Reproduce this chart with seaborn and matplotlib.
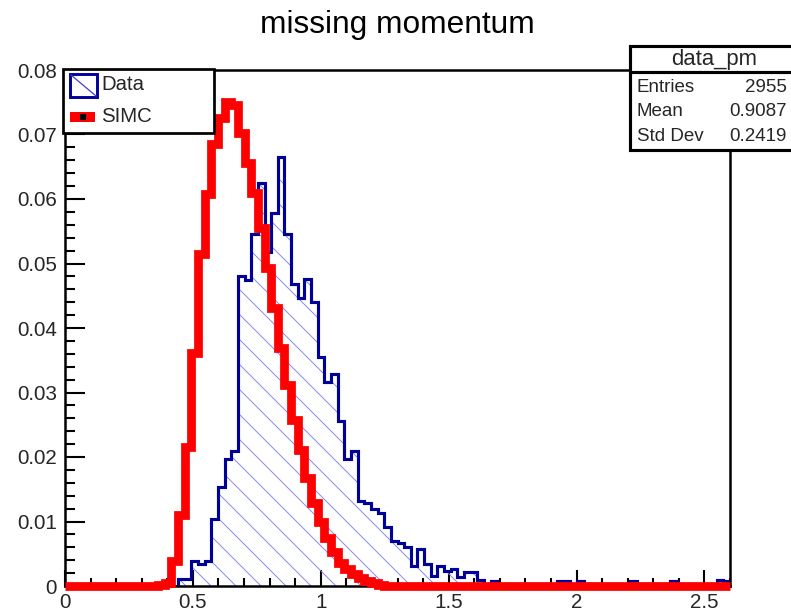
import numpy as np
import pandas as pd
import matplotlib
matplotlib.use("Agg")
import matplotlib.pyplot as plt
import seaborn as sns
from matplotlib.ticker import MultipleLocator, FuncFormatter
from matplotlib.patches import Rectangle
from matplotlib.lines import Line2D

# ---------------- data ----------------
x_min, x_max, n_bins = 0.0, 2.6, 100

data_pm = [
    0, 0, 0, 0, 0, 0, 0, 0, 0, 0,
    0, 0, 0, 0, 0, 0, 0, 0.0011, 0.0011, 0.0039,
    0.0034, 0.0039, 0.0104, 0.0154, 0.0197, 0.0210, 0.0481, 0.0474, 0.0545, 0.0625,
    0.0518, 0.0578, 0.0665, 0.0545, 0.0468, 0.0447, 0.0476, 0.0440, 0.0355, 0.0316,
    0.0329, 0.0256, 0.0197, 0.0210, 0.0132, 0.0128, 0.0119, 0.0113, 0.0091, 0.0070,
    0.0066, 0.0061, 0.0031, 0.0057, 0.0034, 0.0016, 0.0031, 0.0023, 0.0027, 0.0014,
    0.0021, 0.0021, 0.0010, 0.0003, 0.0007, 0.0003, 0, 0, 0, 0,
    0, 0, 0, 0, 0.0007, 0.0007, 0, 0.0007, 0.0003, 0,
    0, 0, 0, 0, 0, 0.0007, 0, 0, 0, 0,
    0.0003, 0.0007, 0.0003, 0, 0, 0, 0, 0.0003, 0.0010, 0.0007,
]

simc_pm = [
    0, 0, 0, 0, 0, 0, 0, 0, 0, 0,
    0, 0, 0, 0, 0.0001, 0.0004, 0.0038, 0.0110, 0.0216, 0.0361,
    0.0514, 0.0607, 0.0685, 0.0726, 0.0750, 0.0745, 0.0703, 0.0656, 0.0610, 0.0555,
    0.0493, 0.0431, 0.0369, 0.0312, 0.0258, 0.0211, 0.0167, 0.0128, 0.0100, 0.0074,
    0.0052, 0.0036, 0.0027, 0.0018, 0.0012, 0.0007, 0.0004, 0.0002, 0, 0,
    0, 0, 0, 0, 0, 0, 0, 0, 0, 0,
    0, 0, 0, 0, 0, 0, 0, 0, 0, 0,
    0, 0, 0, 0, 0, 0, 0, 0, 0, 0,
    0, 0, 0, 0, 0, 0, 0, 0, 0, 0,
    0, 0, 0, 0, 0, 0, 0, 0, 0, 0,
]

title_text = "missing momentum"
legend_labels = ["Data", "SIMC"]
stats_title = "data_pm"
stats_names = ["Entries", "Mean", "Std Dev"]
stats_values = ["2955", "0.9087", "0.2419"]
x_ticks = [0, 0.5, 1, 1.5, 2, 2.5]
y_ticks = [0, 0.01, 0.02, 0.03, 0.04, 0.05, 0.06, 0.07, 0.08]

# ---------------- style ----------------
sns.set_style("ticks")
plt.rcParams["font.family"] = ["Liberation Sans", "DejaVu Sans"]
plt.rcParams["hatch.linewidth"] = 0.45

NAVY = "#000099"
HATCH = "#8484f0"
RED = "#ff0000"

W, H, DPI = 791, 611, 150
fig = plt.figure(figsize=(W / DPI, H / DPI), dpi=DPI)
fig.patch.set_facecolor("white")


def fx(p):
    return p / W


def fy(p):
    return 1 - p / H


ax = fig.add_axes([fx(65), fy(586), fx(730) - fx(65), fy(70) - fy(586)])
ax.set_facecolor("white")

edges = np.linspace(x_min, x_max, n_bins + 1)
centers = (edges[:-1] + edges[1:]) / 2
df = pd.DataFrame({"pm": centers, "data": data_pm, "simc": simc_pm})
hist_common = dict(data=df, x="pm", bins=n_bins, binrange=(x_min, x_max),
                   element="step", ax=ax)

# hatched fill of data
sns.histplot(weights="data", fill=True, color=HATCH, facecolor="none",
             edgecolor=HATCH, linewidth=0, hatch="\\\\", alpha=1, zorder=1,
             **hist_common)
# data outline
sns.histplot(weights="data", fill=False, color=NAVY, linewidth=1.5,
             solid_joinstyle="miter", zorder=2, **hist_common)
# SIMC thick red outline
sns.histplot(weights="simc", fill=False, color=RED, linewidth=4.2,
             solid_joinstyle="miter", solid_capstyle="butt", clip_on=False,
             zorder=3, **hist_common)

ax.set_xlim(x_min, x_max)
ax.set_ylim(0, 0.08)
ax.set_xlabel("")
ax.set_ylabel("")

fmt = FuncFormatter(lambda v, p: f"{v:g}")
ax.set_xticks(x_ticks)
ax.set_yticks(y_ticks)
ax.xaxis.set_major_formatter(fmt)
ax.yaxis.set_major_formatter(fmt)
ax.xaxis.set_minor_locator(MultipleLocator(0.1))
ax.yaxis.set_minor_locator(MultipleLocator(0.002))
ax.tick_params(axis="x", which="major", direction="in", length=7.7, width=1.0,
               pad=3.6, labelsize=9.9, top=False, color="black")
ax.tick_params(axis="x", which="minor", direction="in", length=3.8, width=1.0,
               top=False, color="black")
ax.tick_params(axis="y", which="major", direction="in", length=9.6, width=1.0,
               pad=3.8, labelsize=9.9, right=False, color="black")
ax.tick_params(axis="y", which="minor", direction="in", length=4.8, width=1.0,
               right=False, color="black")
for s in ax.spines.values():
    s.set_visible(True)
    s.set_linewidth(1.2)
    s.set_color("black")

# ---------------- title ----------------
fig.text(fx(397), fy(25), title_text, ha="center", va="center", fontsize=15.2,
         color="black")

# ---------------- legend box ----------------
fig.add_artist(Rectangle((fx(63), fy(133)), fx(214) - fx(63), fy(69) - fy(133),
                         transform=fig.transFigure, facecolor="white",
                         edgecolor="black", lw=1.3, zorder=10))
fig.add_artist(Rectangle((fx(70), fy(97)), fx(97) - fx(70), fy(74) - fy(97),
                         transform=fig.transFigure, facecolor="white",
                         edgecolor=NAVY, lw=1.4, zorder=11))
fig.add_artist(Line2D([fx(71), fx(96)], [fy(75), fy(96)], transform=fig.transFigure,
                      color="#3f3fd8", lw=0.6, zorder=12))
fig.add_artist(Line2D([fx(70), fx(95)], [fy(117), fy(117)], transform=fig.transFigure,
                      color=RED, lw=4.8, solid_capstyle="butt", zorder=11))
fig.add_artist(Line2D([fx(82.5)], [fy(117)], transform=fig.transFigure,
                      marker="s", ms=1.6, color="black", lw=0, zorder=12))
fig.text(fx(101.5), fy(85), legend_labels[0], ha="left", va="center",
         fontsize=9.8, zorder=12)
fig.text(fx(101.5), fy(117), legend_labels[1], ha="left", va="center",
         fontsize=9.8, zorder=12)

# ---------------- stats box ----------------
fig.add_artist(Rectangle((fx(630), fy(150)), fx(805) - fx(630), fy(46) - fy(150),
                         transform=fig.transFigure, facecolor="white",
                         edgecolor="black", lw=1.5, zorder=10, clip_on=False))
fig.add_artist(Line2D([fx(630), fx(805)], [fy(72), fy(72)], transform=fig.transFigure,
                      color="black", lw=1.5, zorder=11))
fig.text(fx(714), fy(59), stats_title, ha="center", va="center", fontsize=10.6,
         zorder=12)
row_y = [88, 112, 136.5]
for name, val, yy in zip(stats_names, stats_values, row_y):
    fig.text(fx(637), fy(yy), name, ha="left", va="center", fontsize=9.0, zorder=12)
    fig.text(fx(787), fy(yy), val, ha="right", va="center", fontsize=9.0, zorder=12)

fig.savefig("out.png", dpi=DPI, facecolor="white")
